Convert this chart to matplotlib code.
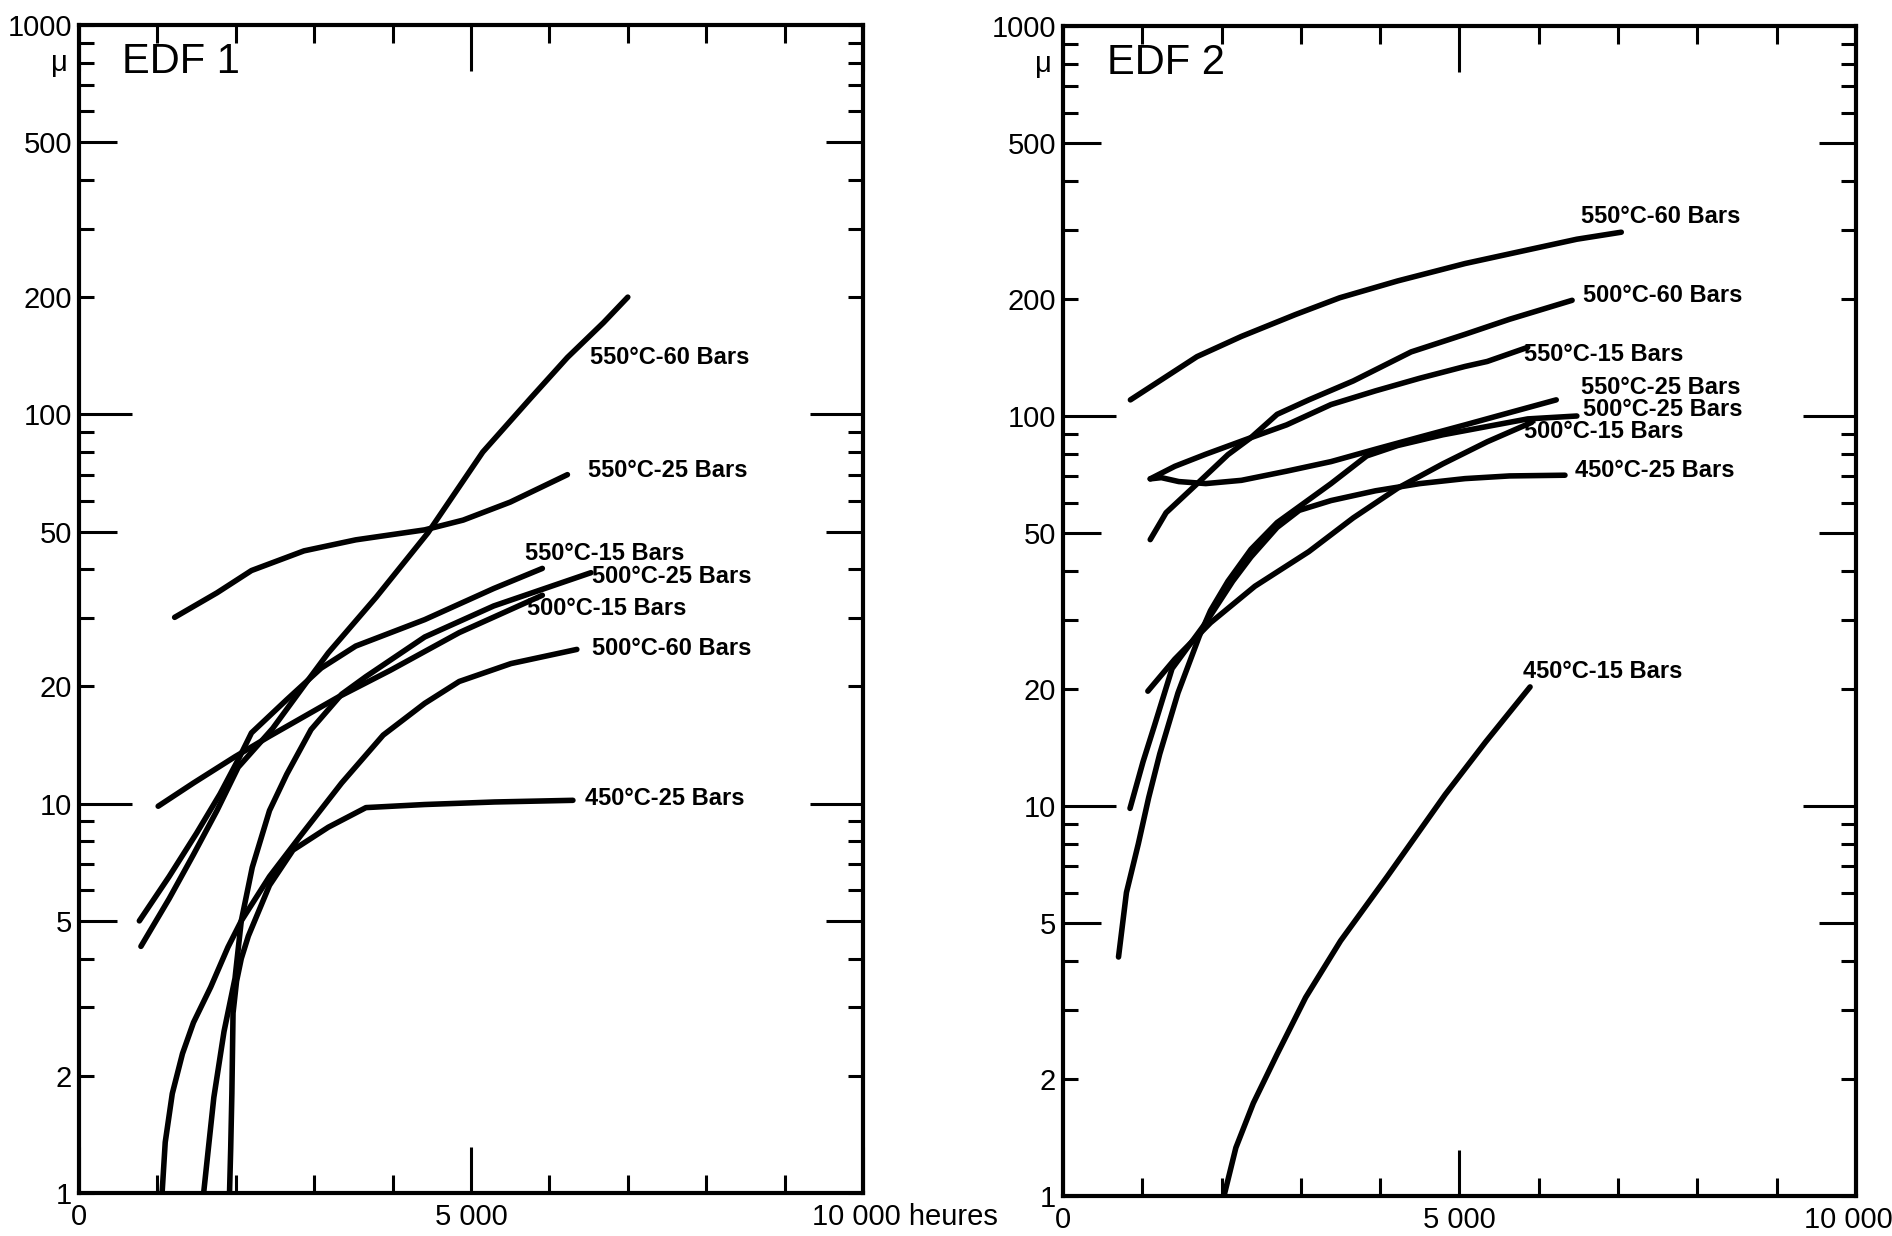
import matplotlib
matplotlib.use("Agg")
import matplotlib.pyplot as plt
from matplotlib.transforms import ScaledTranslation

plt.rcParams['font.family'] = ['Liberation Sans', 'DejaVu Sans']

# ---- EDF 1 : oxide thickness (micron) vs exposure time (hours) ----
e1_550_60_h = [790, 1150, 1460, 1760, 2030, 2470, 2870, 3180, 3790, 4450, 5150, 5760, 6230, 6690, 7000]
e1_550_60_um = [4.3, 5.7, 7.4, 9.6, 12.4, 15.6, 20.1, 24.4, 33.9, 49.6, 80, 110, 140, 172, 200]

e1_550_25_h = [1220, 1760, 2200, 2870, 3530, 4410, 4900, 5500, 6230]
e1_550_25_um = [30.1, 34.8, 39.7, 44.6, 47.6, 50.5, 53.5, 59.5, 70]

e1_550_15_h = [770, 1150, 1500, 1800, 2050, 2200, 2650, 3090, 3530, 4410, 5290, 5910]
e1_550_15_um = [5.0, 6.5, 8.4, 10.6, 13.2, 15.2, 18.5, 22.3, 25.4, 29.7, 35.7, 40.2]

e1_500_25_h = [1590, 1650, 1720, 1850, 1990, 2070, 2210, 2430, 2650, 2960, 3350, 3660, 4410, 5290, 6530]
e1_500_25_um = [1.0, 1.3, 1.76, 2.6, 3.56, 5.0, 6.86, 9.6, 11.9, 15.5, 19.1, 21.2, 26.8, 32.2, 39.2]

e1_500_15_h = [1010, 1460, 1990, 2430, 3310, 3970, 4850, 5910]
e1_500_15_um = [9.85, 11.3, 13.2, 14.9, 18.8, 22.0, 27.5, 34.3]

e1_500_60_h = [1060, 1100, 1190, 1320, 1460, 1680, 1900, 2070, 2430, 2820, 3350, 3880, 4410, 4850, 5510, 6350]
e1_500_60_um = [1.0, 1.35, 1.8, 2.28, 2.74, 3.38, 4.28, 5.0, 6.5, 8.24, 11.3, 15.0, 18.1, 20.6, 22.9, 24.9]

e1_450_25_h = [1920, 1935, 1950, 1965, 2010, 2070, 2160, 2430, 2730, 3180, 3660, 4410, 5300, 6300]
e1_450_25_um = [1.0, 1.3, 1.8, 2.9, 3.5, 4.0, 4.57, 6.17, 7.6, 8.7, 9.77, 9.95, 10.1, 10.2]

# ---- EDF 2 ----
e2_550_60_h = [850, 1690, 2250, 2930, 3490, 4220, 5070, 5910, 6480, 7040]
e2_550_60_um = [110, 142, 160, 182, 201, 222, 246, 268, 284, 296]

e2_500_60_h = [1100, 1300, 1690, 2080, 2370, 2700, 3100, 3660, 4390, 5070, 5630, 6420]
e2_500_60_um = [48.2, 56.5, 67, 79.6, 88, 101, 110, 123, 146, 162, 177, 198]

e2_550_15_h = [1100, 1410, 1800, 2370, 2820, 3380, 3940, 4500, 5070, 5350, 5860]
e2_550_15_um = [69, 74.3, 79.8, 88, 94.9, 107, 116, 125, 134, 138, 150]

e2_550_25_h = [1100, 1240, 1460, 1800, 2250, 2820, 3380, 3940, 4500, 5070, 5630, 6220]
e2_550_25_um = [69, 69.5, 67.9, 67.1, 68.4, 72.2, 76.4, 82.2, 88.3, 94.9, 102, 110]

e2_500_25_h = [700, 800, 950, 1080, 1220, 1450, 1720, 1860, 2080, 2370, 2700, 3040, 3380, 3830, 4220, 4790, 5350, 5860, 6480]
e2_500_25_um = [4.1, 6.0, 8.0, 10.5, 13.6, 19.5, 27.3, 31.7, 37.7, 45.5, 53.3, 59.8, 67.1, 79, 84, 89.5, 94, 98.3, 100]

e2_500_15_h = [1070, 1410, 1860, 2420, 3100, 3660, 4220, 4790, 5350, 5910]
e2_500_15_um = [19.7, 23.8, 29.5, 36.6, 44.9, 54.8, 65.3, 75.4, 85.9, 96.3]

e2_450_25_h = [845, 1010, 1150, 1375, 1800, 2140, 2370, 2700, 2980, 3380, 3940, 4500, 5070, 5630, 6330]
e2_450_25_um = [9.86, 13, 16, 22.5, 29.5, 37.7, 43.5, 51.8, 57.3, 60.7, 64.3, 67.1, 69.1, 70.2, 70.5]

e2_450_15_h = [2030, 2180, 2400, 2700, 3060, 3500, 4090, 4820, 5330, 5890]
e2_450_15_um = [1.0, 1.33, 1.73, 2.31, 3.23, 4.51, 6.6, 10.7, 14.6, 20.2]

# curve tags and where their text sits (hours, micron)
edf1_tags = ['550°C-60 Bars', '550°C-25 Bars', '550°C-15 Bars', '500°C-25 Bars',
             '500°C-15 Bars', '500°C-60 Bars', '450°C-25 Bars']
edf1_tag_pos = [(6518, 140), (6487, 71.7), (5687, 43.8), (6548, 38.3),
                (5718, 31.8), (6548, 25.1), (6457, 10.3)]

edf2_tags = ['550°C-60 Bars', '500°C-60 Bars', '550°C-15 Bars', '550°C-25 Bars',
             '500°C-25 Bars', '500°C-15 Bars', '450°C-25 Bars', '450°C-15 Bars']
edf2_tag_pos = [(6527, 324), (6557, 204), (5813, 144), (6527, 118),
                (6557, 104), (5813, 91), (6451, 72.4), (5797, 22.1)]

y_major = [1, 2, 5, 10, 20, 50, 100, 200, 500, 1000]
y_minor = [3, 4, 6, 7, 8, 9, 30, 40, 60, 70, 80, 90, 300, 400, 600, 700, 800, 900]
x_major = [0, 5000, 10000]
x_minor = [1000, 2000, 3000, 4000, 6000, 7000, 8000, 9000]


def setup(ax, title, xlabels):
    ax.set_yscale('log')
    ax.set_xlim(0, 10000)
    ax.set_ylim(1, 1000)
    ax.set_yticks(y_major, labels=[str(v) for v in y_major])
    ax.set_yticks(y_minor, minor=True)
    ax.set_yticklabels([], minor=True)
    ax.set_xticks(x_major, labels=xlabels)
    ax.set_xticks(x_minor, minor=True)
    for s in ax.spines.values():
        s.set_linewidth(3)
    ax.tick_params(which='both', direction='in', left=True, right=True,
                   top=True, bottom=True, width=2.2, colors='black')
    ax.tick_params(axis='y', which='major', pad=5, labelsize=21)
    ax.tick_params(axis='y', which='minor', length=11)
    ax.tick_params(axis='x', which='major', length=33, pad=7, labelsize=21)
    ax.tick_params(axis='x', which='minor', length=13)
    for t, v in zip(ax.yaxis.get_major_ticks(), y_major):
        if v in (10, 100):
            n = 38
        elif v in (5, 50, 500):
            n = 27
        else:
            n = 11
        t.tick1line.set_markersize(n)
        t.tick2line.set_markersize(n)
    ax.annotate('μ', xy=(0, 800), xycoords=('axes fraction', 'data'),
                xytext=(-8, 0), textcoords='offset points',
                ha='right', va='center', fontsize=21)
    ax.text(0.055, 0.968, title, transform=ax.transAxes,
            ha='left', va='center', fontsize=30)


fig = plt.figure(figsize=(18.92, 12.36), dpi=100)
ax1 = fig.add_axes([0.04175, 0.03479, 0.41438, 0.94498])
ax2 = fig.add_axes([0.56184, 0.03236, 0.41913, 0.94660])

line_kw = dict(color='black', lw=4, solid_capstyle='round', solid_joinstyle='round')

edf1_curves = [(e1_550_60_h, e1_550_60_um), (e1_550_25_h, e1_550_25_um),
               (e1_550_15_h, e1_550_15_um), (e1_500_25_h, e1_500_25_um),
               (e1_500_15_h, e1_500_15_um), (e1_500_60_h, e1_500_60_um),
               (e1_450_25_h, e1_450_25_um)]
edf2_curves = [(e2_550_60_h, e2_550_60_um), (e2_500_60_h, e2_500_60_um),
               (e2_550_15_h, e2_550_15_um), (e2_550_25_h, e2_550_25_um),
               (e2_500_25_h, e2_500_25_um), (e2_500_15_h, e2_500_15_um),
               (e2_450_25_h, e2_450_25_um), (e2_450_15_h, e2_450_15_um)]

panels = [(ax1, edf1_curves, edf1_tags, edf1_tag_pos, 'EDF 1', ['0', '5 000', '10 000 heures']),
          (ax2, edf2_curves, edf2_tags, edf2_tag_pos, 'EDF 2', ['0', '5 000', '10 000'])]

for ax, curves, tags, pos, title, xl in panels:
    setup(ax, title, xl)
    for h, um in curves:
        ax.plot(h, um, **line_kw)
    for tag, (tx, ty) in zip(tags, pos):
        ax.text(tx, ty, tag, ha='left', va='center', fontsize=17, fontweight='bold')

# the last hour label of the left panel runs on to the right with its unit
lab = ax1.get_xticklabels()[-1]
lab.set_horizontalalignment('left')
lab.set_transform(lab.get_transform() + ScaledTranslation(-0.51, 0, fig.dpi_scale_trans))
lab2 = ax2.get_xticklabels()[-1]
lab2.set_transform(lab2.get_transform() + ScaledTranslation(-0.08, 0, fig.dpi_scale_trans))

fig.savefig('out.png', dpi=100)
